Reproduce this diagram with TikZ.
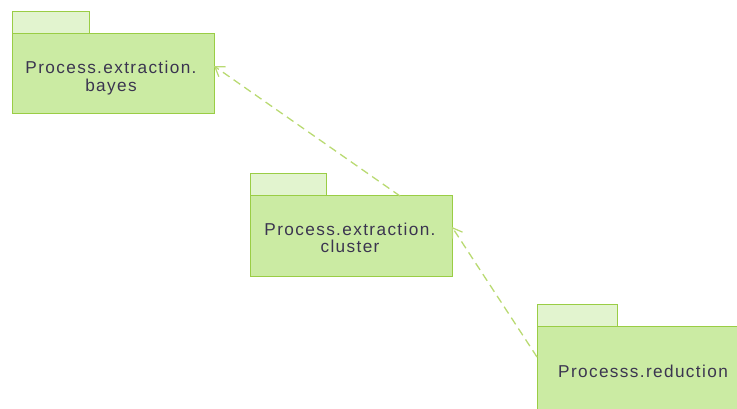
\documentclass[tikz,border=0pt]{standalone}
\usepackage{fontspec}
\setmainfont{Liberation Sans}[LetterSpace=8]
\usetikzlibrary{arrows.meta}
\definecolor{pkgline}{HTML}{9ACD45}
\definecolor{pkgfill}{HTML}{CBEBA3}
\definecolor{tabfill}{HTML}{E2F4CF}
\definecolor{deplink}{HTML}{B9DA72}
\definecolor{pkgtext}{HTML}{3B3550}
\tikzset{
  x=1pt, y=-1pt,
  pkgbody/.style={draw=pkgline, line width=1pt, fill=pkgfill, inner sep=0pt},
  pkgtab/.style={draw=pkgline, line width=1pt, fill=tabfill},
  pkglabel/.style={text=pkgtext, font=\fontsize{17.2}{17.5}\selectfont, align=center},
  dependency/.style={draw=deplink, line width=1.3pt, dash pattern=on 8pt off 5pt,
    -{Straight Barb[length=9pt,width=12pt,line width=1.2pt]}}
}
\begin{document}
\begin{tikzpicture}
\useasboundingbox (0,0) rectangle (737,409);
% package: Process.extraction.bayes
\draw[pkgtab] (12,12) rectangle (89,34);
\draw[pkgbody] (12,34) rectangle (214,114);
\node[pkglabel] (bayes) at (111,78) {Process.extraction.\\bayes};
\coordinate (bayesR) at (214,66);
% package: Process.extraction.cluster
\draw[pkgtab] (250,174) rectangle (326,196);
\draw[pkgbody] (250,196) rectangle (452,276);
\node[pkglabel] (cluster) at (350,238) {Process.extraction.\\cluster};
\coordinate (clusterT) at (400,196);
\coordinate (clusterR) at (452,227);
% package: Processs.reduction
\draw[pkgtab] (537,304) rectangle (617,326);
\draw[pkgbody] (537,326) rectangle (748,420);
\node[pkglabel] (reduction) at (643,371) {Processs.reduction};
\coordinate (reductionL) at (537,357);
% dependencies
\draw[dependency] (clusterT) -- (bayesR);
\draw[dependency] (reductionL) -- (clusterR);
\end{tikzpicture}
\end{document}
